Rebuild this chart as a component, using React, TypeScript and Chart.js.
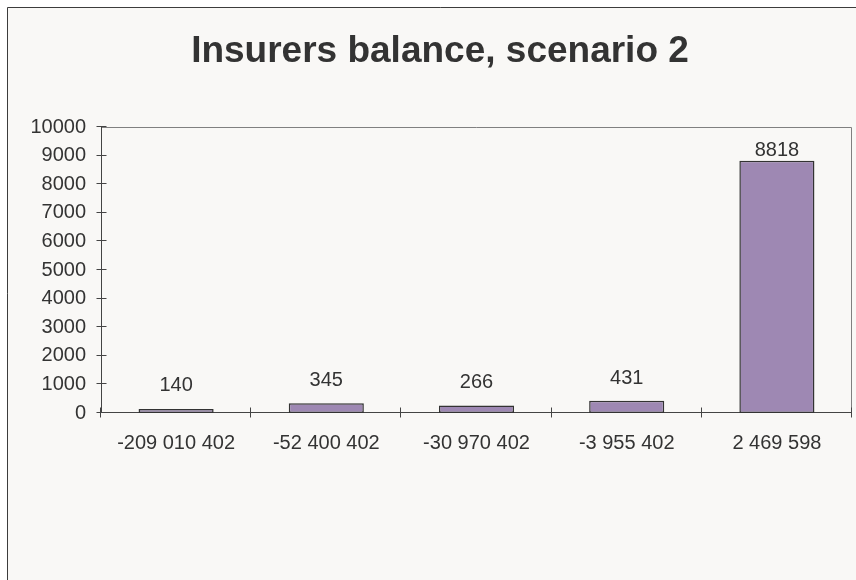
import React, { useEffect, useRef } from "react";
import { Chart, registerables } from "chart.js";

Chart.register(...registerables);

const titleText = "Insurers balance, scenario 2";
const categories = ["-209 010 402", "-52 400 402", "-30 970 402", "-3 955 402", "2 469 598"];
const counts = [140, 345, 266, 431, 8818];
const yMin = 0;
const yMax = 10000;
const yStep = 1000;

const FONT = "'Liberation Sans', Arial, sans-serif";
const TEXT = "#333333";

const framePlugin = {
  id: "frameAxes",
  beforeDraw(chart: any) {
    const { ctx } = chart;
    ctx.save();
    ctx.fillStyle = "#f9f8f6";
    ctx.fillRect(0, 0, chart.width, chart.height);
    ctx.strokeStyle = "#3c3c3c";
    ctx.lineWidth = 1;
    ctx.beginPath();
    ctx.moveTo(0.5, chart.height);
    ctx.lineTo(0.5, 0.5);
    ctx.lineTo(chart.width, 0.5);
    ctx.stroke();
    ctx.restore();
  },
  beforeDatasetsDraw(chart: any) {
    const { ctx, chartArea, scales } = chart;
    const { left, right, top, bottom } = chartArea;
    const ys = scales.y;
    const xs = scales.x;
    ctx.save();
    ctx.lineWidth = 1;
    ctx.strokeStyle = "#808080";
    ctx.beginPath();
    ctx.moveTo(left, Math.round(top) + 0.5);
    ctx.lineTo(Math.round(right) - 0.5, Math.round(top) + 0.5);
    ctx.lineTo(Math.round(right) - 0.5, bottom);
    ctx.stroke();
    ctx.strokeStyle = "#444444";
    ctx.beginPath();
    const lx = Math.round(left) + 0.5;
    ctx.moveTo(lx, top);
    ctx.lineTo(lx, bottom);
    const by = Math.round(bottom) - 0.5;
    ctx.moveTo(left, by);
    ctx.lineTo(right, by);
    for (let v = yMin; v <= yMax; v += yStep) {
      const y = Math.round(ys.getPixelForValue(v)) - 0.5;
      ctx.moveTo(lx - 5, y);
      ctx.lineTo(lx + 5, y);
    }
    for (let i = 0; i <= categories.length; i++) {
      const x = Math.round(xs.getPixelForValue(i - 0.5)) - 0.5;
      ctx.moveTo(x, by - 5);
      ctx.lineTo(x, by + 5);
    }
    ctx.stroke();
    ctx.restore();
  },
  afterDatasetsDraw(chart: any, _args: any, opts: any) {
    const { ctx } = chart;
    const meta = chart.getDatasetMeta(0);
    const offsets: number[] = opts.labelOffsets || [];
    ctx.save();
    ctx.fillStyle = TEXT;
    ctx.font = `20px ${FONT}`;
    ctx.textAlign = "center";
    ctx.textBaseline = "alphabetic";
    meta.data.forEach((bar: any, i: number) => {
      ctx.fillText(String(counts[i]), bar.x, bar.y - (offsets[i] ?? 17));
    });
    ctx.font = `bold 37px ${FONT}`;
    ctx.fillText(titleText, 433, 55);
    ctx.restore();
  },
};

export default function App() {
  const ref = useRef<HTMLCanvasElement | null>(null);
  useEffect(() => {
    if (!ref.current) return;
    const chart = new Chart(ref.current, {
      type: "bar",
      data: {
        labels: categories,
        datasets: [
          {
            data: counts,
            backgroundColor: "#9e88b3",
            borderColor: "#333333",
            borderWidth: 1.5,
            borderSkipped: false,
            barPercentage: 0.5,
            categoryPercentage: 1.0,
          },
        ],
      },
      options: {
        responsive: false,
        animation: false,
        layout: { padding: { left: 0, top: 120, right: 21, bottom: 0 } },
        plugins: {
          legend: { display: false },
          title: { display: false },
          tooltip: { enabled: false },
          frameAxes: { labelOffsets: [18, 17, 17, 17, 5] },
        } as any,
        scales: {
          x: {
            grid: { display: false },
            border: { display: false },
            ticks: { color: TEXT, font: { size: 20, family: FONT }, padding: 10, maxRotation: 0 },
            afterFit: (s: any) => {
              s.height = 167;
            },
          },
          y: {
            min: yMin,
            max: yMax,
            grid: { display: false, drawTicks: false },
            border: { display: false },
            ticks: {
              stepSize: yStep,
              color: TEXT,
              font: { size: 20, family: FONT },
              padding: 15,
              callback: (v: any) => String(v),
            },
            afterFit: (s: any) => {
              s.width = 94;
            },
          },
        },
      },
      plugins: [framePlugin],
    });
    return () => chart.destroy();
  }, []);
  return (
    <div style={{ position: "absolute", left: 7, top: 7, width: 849, height: 573, overflow: "hidden" }}>
      <canvas ref={ref} width={866} height={573} style={{ display: "block" }} />
    </div>
  );
}
